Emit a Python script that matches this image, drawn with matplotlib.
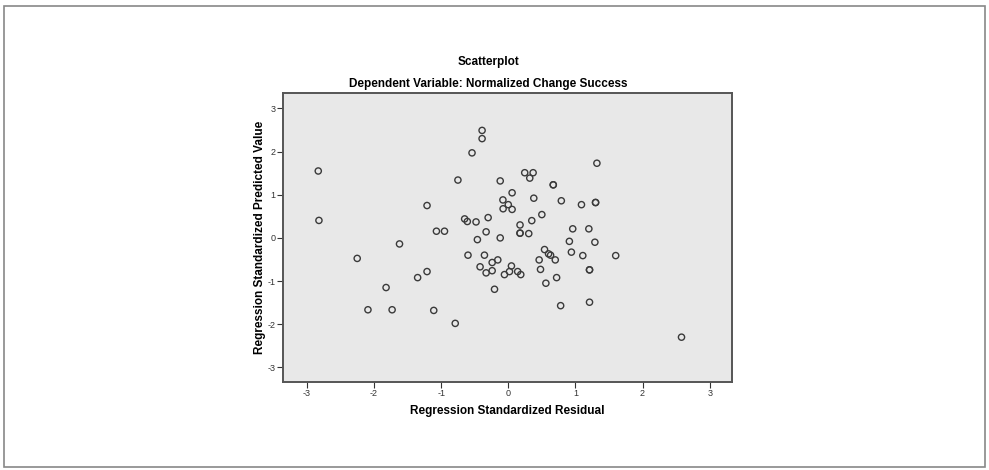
import matplotlib
matplotlib.use("Agg")
import matplotlib.pyplot as plt
from matplotlib.patches import Rectangle

plt.rcParams['font.family'] = ['Liberation Sans', 'DejaVu Sans']
plt.rcParams['axes.unicode_minus'] = False

# regression standardized residual (x) and standardized predicted value (y)
resid = [-2.83, -2.82, -1.21, -1.62, -2.25, -1.35, -1.21, -1.82, -2.09, -1.73,
         -1.11, -0.79, -1.07, -0.95, -0.46, -0.12, -0.33, 0.175, 0.175, 0.305,
         0.175, -0.60, -0.355, -0.156, -0.24, -0.42, -0.24, -0.33, 0.047, 0.018,
         -0.057, 0.14, 0.186, -0.205, 0.54, 0.60, 0.63, 0.70, 0.46, 0.48,
         0.72, 0.56, 0.78, 0.91, 0.94, 1.11, 1.29, 1.60, 1.21, 1.21,
         1.21, 2.58, 1.32, 1.30, 1.30, 1.09, 1.20, 0.96, -0.39, -0.39,
         -0.54, -0.75, -0.12, 0.245, 0.37, 0.32, 0.67, 0.67, 0.057, 0.38,
         0.79, -0.08, 0.0, -0.077, 0.057, 0.50, -0.65, -0.61, -0.48, -0.30,
         0.35]
pred = [1.55, 0.405, 0.75, -0.14, -0.475, -0.92, -0.78, -1.15, -1.665, -1.665,
        -1.68, -1.98, 0.155, 0.155, -0.04, 0.0, 0.14, 0.11, 0.11, 0.10,
        0.30, -0.40, -0.40, -0.51, -0.57, -0.67, -0.76, -0.81, -0.65, -0.78,
        -0.85, -0.78, -0.85, -1.19, -0.27, -0.37, -0.40, -0.51, -0.51, -0.73,
        -0.92, -1.05, -1.57, -0.08, -0.33, -0.41, -0.10, -0.41, -0.74, -0.74,
        -1.49, -2.30, 1.73, 0.82, 0.82, 0.77, 0.21, 0.21, 2.49, 2.30,
        1.97, 1.34, 1.32, 1.51, 1.51, 1.385, 1.23, 1.23, 1.045, 0.92,
        0.86, 0.88, 0.77, 0.675, 0.66, 0.54, 0.44, 0.38, 0.37, 0.47,
        0.40]
ticks = [-3, -2, -1, 0, 1, 2, 3]

fig = plt.figure(figsize=(9.89, 4.70), dpi=100)
fig.patches.append(Rectangle((0.004, 0.006), 0.992, 0.982, transform=fig.transFigure,
                             fill=False, edgecolor='#888888', linewidth=1.2))

ax = fig.add_axes([0.2865, 0.188, 0.4535, 0.6135])
ax.set_facecolor('#e8e8e8')
ax.scatter(resid, pred, s=20, facecolors='none', edgecolors='#3a3a3a', linewidths=1.0)

ax.set_xlim(-3.35, 3.33)
ax.set_ylim(-3.33, 3.35)
ax.set_xticks(ticks)
ax.set_yticks(ticks)
ax.tick_params(labelsize=6.5, length=4, width=0.8, color='#333333', labelcolor='#333333', pad=1.5)
for s in ax.spines.values():
    s.set_color('#555555')
    s.set_linewidth(1.4)

ax.set_xlabel('Regression Standardized Residual', fontsize=8.5, fontweight='bold', labelpad=5)
ax.set_ylabel('Regression Standardized Predicted Value', fontsize=8.5, fontweight='bold', labelpad=1)

fig.text(0.494, 0.869, 'Scatterplot', ha='center', va='center', fontsize=8.5, fontweight='bold')
fig.text(0.494, 0.821, 'Dependent Variable: Normalized Change Success', ha='center', va='center',
         fontsize=8.5, fontweight='bold')

fig.savefig('out.png', dpi=100)
